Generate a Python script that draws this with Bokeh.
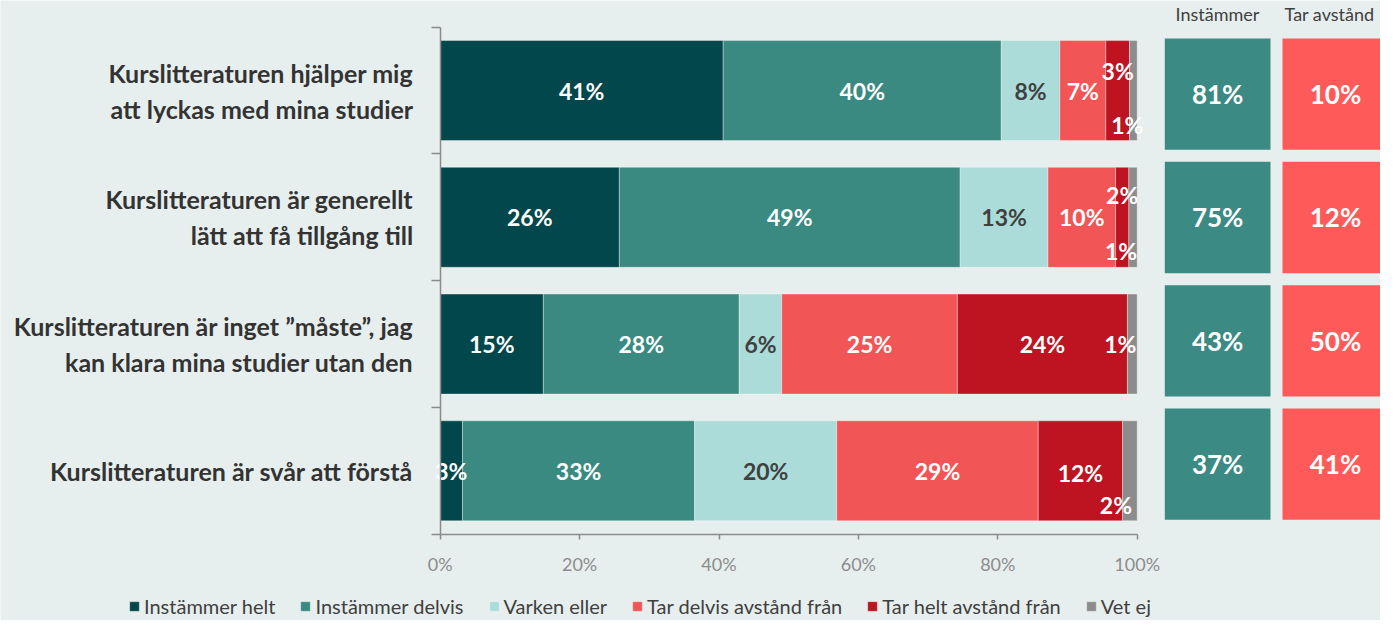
from bokeh.plotting import figure
from bokeh.models import Range1d, FixedTicker, ColumnDataSource, PrintfTickFormatter
from bokeh.core.properties import value
from bokeh.embed import file_html
from bokeh.resources import INLINE

# ---------------- data ----------------
statements = [
    "Kurslitteraturen hjälper mig\natt lyckas med mina studier",
    "Kurslitteraturen är generellt\nlätt att få tillgång till",
    "Kurslitteraturen är inget ”måste”, jag\nkan klara mina studier utan den",
    "Kurslitteraturen är svår att förstå",
]
series = ["Instämmer helt", "Instämmer delvis", "Varken eller",
          "Tar delvis avstånd från", "Tar helt avstånd från", "Vet ej"]
instammer_helt = [40.6, 25.7, 14.8, 3.2]
instammer_delvis = [39.9, 48.9, 28.1, 33.3]
varken_eller = [8.4, 12.6, 6.1, 20.4]
tar_delvis = [6.6, 9.7, 25.2, 28.9]
tar_helt = [3.4, 1.9, 24.4, 12.1]
vet_ej = [1.1, 1.2, 1.4, 2.1]
total_instammer = [81, 75, 43, 37]
total_tar_avstand = [10, 12, 50, 41]
x_ticks = [0, 20, 40, 60, 80, 100]

# ---------------- style / layout ----------------
colors = ["#02474C", "#3A8A82", "#ABDCD9", "#F25555", "#BE1422", "#8C8C8C"]
label_colors = ["white", "white", "#404040", "white", "white", "white"]
BG = "#E7EFEE"
FONT = "Lato"
W, H = 1380, 620
X0 = 439.7        # pixel of 0 %
PX = 6.97         # pixels per percent
YB = 533.7        # pixel of lower axis end
PITCH = 126.75    # pixels per category


def xd(px):
    return (px - X0) / PX


def yd(py):
    return (YB - py) / PITCH + 0.5


n = len(statements)
ycat = [n - i for i in range(n)]  # top row -> 4

values = [instammer_helt, instammer_delvis, varken_eller, tar_delvis, tar_helt, vet_ej]

p = figure(width=W, height=H, x_range=Range1d(xd(0), xd(W)), y_range=Range1d(yd(H), yd(0)),
           output_backend="svg", toolbar_location=None, min_border=0,
           background_fill_color=BG, border_fill_color=BG)
p.outline_line_color = None
p.xgrid.visible = False
p.ygrid.visible = False

src = ColumnDataSource(dict(y=ycat, **{s: v for s, v in zip(series, values)}))
p.hbar_stack(series, y="y", height=100 / PITCH, color=colors, source=src,
             legend_label=series, line_color="white", line_alpha=0.35, line_width=1)

# segment labels
xo_by_series = [[0] * n, [0] * n, [0] * n, [0] * n, [0] * n, [-6, -12, -12, -14]]
yo_by_series = [[0] * n, [0] * n, [0] * n, [0] * n, [-20, -22, 0, 2], [34, 34, 0, 34]]
lx, ly, lt, lc, lxo, lyo = [], [], [], [], [], []
for r in range(n):
    cum = 0
    for k, vals in enumerate(values):
        v = vals[r]
        lx.append(cum + v / 2)
        ly.append(ycat[r])
        lt.append(f"{v:.0f}%")
        lc.append(label_colors[k])
        lxo.append(xo_by_series[k][r])
        lyo.append(yo_by_series[k][r])
        cum += v
lsrc = ColumnDataSource(dict(x=lx, y=ly, text=lt, color=lc, xo=lxo, yo=lyo))
p.text(x="x", y="y", text="text", source=lsrc, text_color="color", x_offset="xo", y_offset="yo",
       text_align="center", text_baseline="middle", text_font=value(FONT),
       text_font_style="bold", text_font_size="23px")

# summary boxes
col_left = [1164.3, 1282.0]
col_right = [1270.0, 1388.0]
header_x = [1217.0, 1329.0]
box_top0, box_h, box_pitch = 38.0, 111.3, 123.33
box_colors = ["#3B8A83", "#FF5A5A"]
totals = [total_instammer, total_tar_avstand]
headers = ["Instämmer", "Tar avstånd"]
bl, br, bt, bb, bc, bx, by, btxt = [], [], [], [], [], [], [], []
for c in range(2):
    for r in range(n):
        top = box_top0 + r * box_pitch
        bl.append(xd(col_left[c]))
        br.append(xd(col_right[c]))
        bt.append(yd(top))
        bb.append(yd(top + box_h))
        bc.append(box_colors[c])
        bx.append(xd((col_left[c] + col_right[c]) / 2))
        by.append(yd(top + box_h / 2))
        btxt.append(f"{totals[c][r]}%")
bsrc = ColumnDataSource(dict(left=bl, right=br, top=bt, bottom=bb, color=bc, x=bx, y=by, text=btxt))
p.quad(left="left", right="right", top="top", bottom="bottom", fill_color="color",
       line_color=None, source=bsrc)
p.text(x="x", y="y", text="text", source=bsrc, text_color="white", text_align="center",
       text_baseline="middle", text_font=value(FONT), text_font_style="bold", text_font_size="26px")
hsrc = ColumnDataSource(dict(x=[xd(hx) for hx in header_x], y=[yd(13)] * 2, text=headers))
p.text(x="x", y="y", text="text", source=hsrc, text_color="#404040", text_align="center",
       text_baseline="middle", text_font=value(FONT), text_font_size="18px")

# x axis
xa = p.xaxis[0]
xa.fixed_location = 0.5
xa.bounds = (0, 100)
xa.ticker = FixedTicker(ticks=x_ticks)
xa.formatter = PrintfTickFormatter(format="%d%%")
xa.axis_line_color = "#8A8A8A"
xa.axis_line_width = 1.5
xa.major_tick_line_color = "#8A8A8A"
xa.major_tick_line_width = 1.5
xa.major_tick_out = 5
xa.major_tick_in = 0
xa.minor_tick_line_color = None
xa.major_label_standoff = 14
xa.major_label_text_font = FONT
xa.major_label_text_font_size = "18px"
xa.major_label_text_color = "#8C8C8C"

# y axis
ya = p.yaxis[0]
ya.fixed_location = 0
ya.bounds = (0.5, n + 0.5)
ya.ticker = FixedTicker(ticks=ycat, minor_ticks=[i + 0.5 for i in range(n + 1)])
ya.major_label_overrides = {ycat[i]: statements[i] for i in range(n)}
ya.axis_line_color = "#8A8A8A"
ya.axis_line_width = 1.5
ya.major_tick_line_color = None
ya.major_tick_out = 0
ya.major_tick_in = 0
ya.minor_tick_line_color = "#8A8A8A"
ya.minor_tick_line_width = 1.5
ya.minor_tick_out = 9
ya.minor_tick_in = 0
ya.major_label_standoff = 18
ya.major_label_text_font = FONT
ya.major_label_text_font_style = "bold"
ya.major_label_text_font_size = "25px"
ya.major_label_text_color = "#333333"
ya.major_label_text_line_height = 1.2

# legend
lg = p.legend[0]
lg.orientation = "horizontal"
lg.location = (128, 2)
lg.background_fill_alpha = 0
lg.border_line_color = None
lg.padding = 0
lg.margin = 0
lg.spacing = 24
lg.glyph_width = 12
lg.glyph_height = 12
lg.label_standoff = 4
lg.label_text_font = FONT
lg.label_text_font_size = "20px"
lg.label_text_color = "#404040"

html = file_html(p, INLINE)
html = html.replace("<body>", f'<body style="background-color:{BG};">', 1)
open("out.html", "w").write(html)
